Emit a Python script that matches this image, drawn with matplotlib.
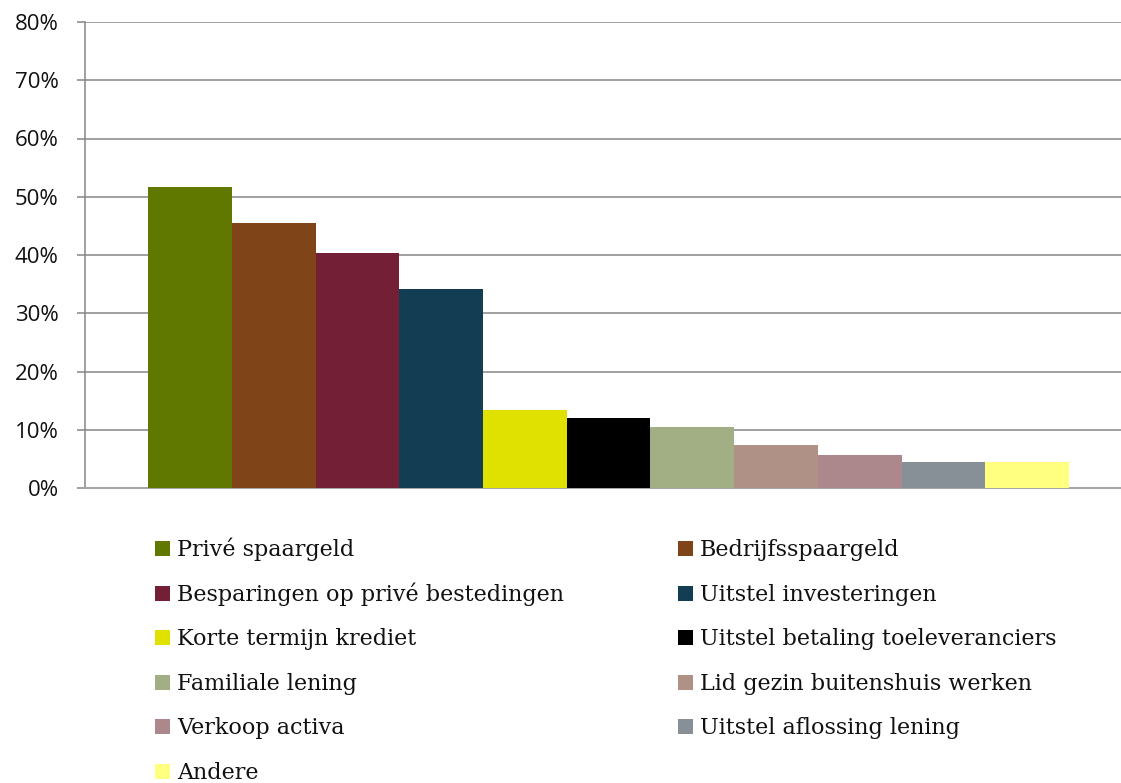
import matplotlib
matplotlib.use("Agg")
import matplotlib.pyplot as plt
from matplotlib.patches import Rectangle
from matplotlib.ticker import FuncFormatter

# data
labels = ["Privé spaargeld", "Bedrijfsspaargeld", "Besparingen op privé bestedingen",
          "Uitstel investeringen", "Korte termijn krediet", "Uitstel betaling toeleveranciers",
          "Familiale lening", "Lid gezin buitenshuis werken", "Verkoop activa",
          "Uitstel aflossing lening", "Andere"]
values = [0.517, 0.455, 0.403, 0.342, 0.134, 0.120, 0.105, 0.074, 0.057, 0.045, 0.045]
colors = ["#607800", "#7f4418", "#731f36", "#123d52", "#e1e100", "#000000",
          "#a2af85", "#b09186", "#ac878c", "#879096", "#ffff80"]
yticks = [0, 0.1, 0.2, 0.3, 0.4, 0.5, 0.6, 0.7, 0.8]

W, H = 1121, 783
grid_col = "#868686"

fig = plt.figure(figsize=(W / 100, H / 100), dpi=100)
ax = fig.add_axes([85 / W, 1 - 488 / H, 1 - 85 / W, (488 - 22) / H])

x = list(range(len(values)))
ax.bar(x, values, width=1.0, color=colors, zorder=3)

ax.set_xlim(-1.253, 11.12)
ax.set_ylim(0, 0.8)
ax.set_yticks(yticks)
ax.yaxis.set_major_formatter(FuncFormatter(lambda v, p: f"{v * 100:.0f}%"))
ax.set_xticks([])
ax.grid(axis="y", color=grid_col, linewidth=1.1, zorder=0)
ax.set_axisbelow(True)

for s in ["top", "right"]:
    ax.spines[s].set_visible(False)
ax.spines["left"].set_color(grid_col)
ax.spines["left"].set_linewidth(1.1)
ax.spines["bottom"].set_color("#a6a6a6")
ax.spines["bottom"].set_linewidth(1.5)

ax.tick_params(axis="y", direction="out", length=6, width=1.1, color=grid_col,
               pad=13, labelsize=16, labelcolor="#111111")
for t in ax.get_yticklabels():
    t.set_fontfamily("Open Sans")

# legend drawn by hand: two columns, filled row by row
col_x = [155, 678]
row_y0 = 556   # baseline of first row, in pixels from top
row_step = 44.6
for i, (lab, c) in enumerate(zip(labels, colors)):
    col = i % 2
    row = i // 2
    base = row_y0 + row * row_step
    fig.add_artist(Rectangle((col_x[col] / W, 1 - base / H), 15 / W, 15 / H,
                             transform=fig.transFigure, color=c, lw=0))
    fig.text((col_x[col] + 22) / W, 1 - base / H, lab, fontsize=16,
             family="DejaVu Serif", color="#111111", va="baseline", ha="left")

plt.savefig("out.png", dpi=100)
